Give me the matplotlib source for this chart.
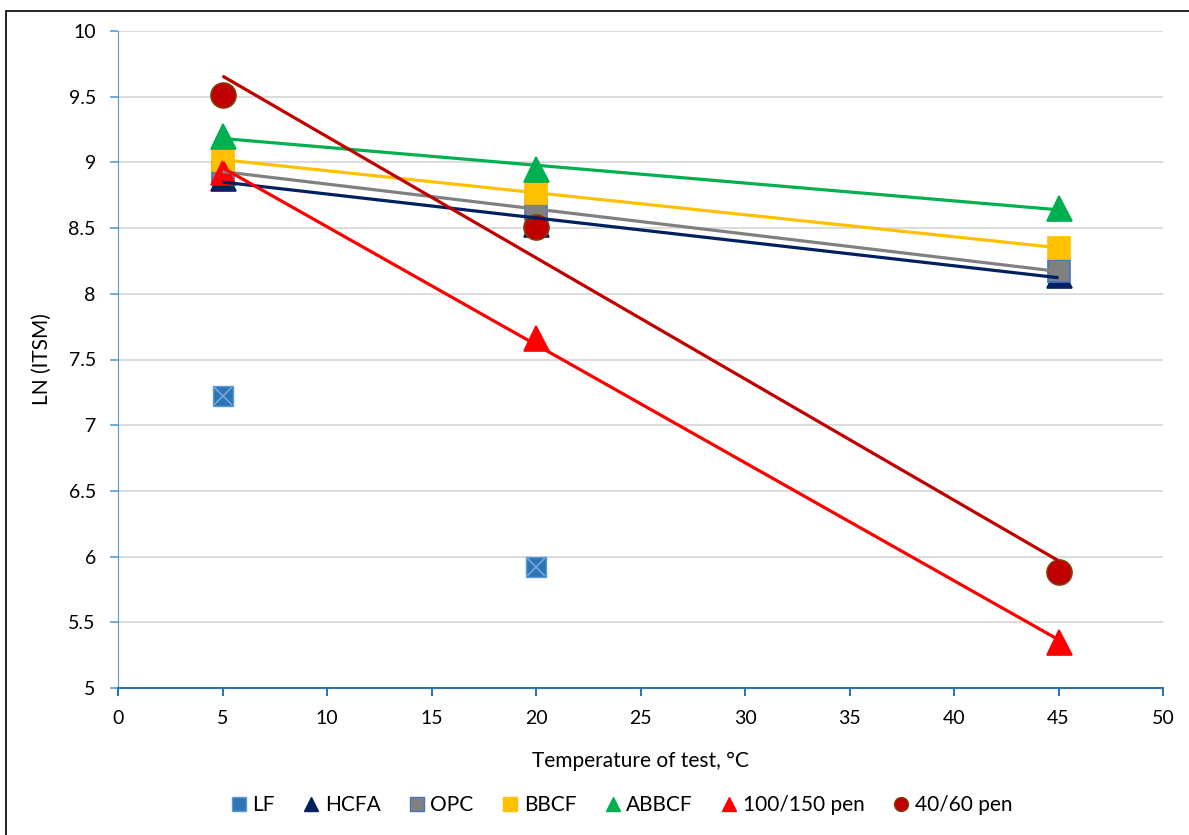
import numpy as np
import matplotlib
matplotlib.use("Agg")
import matplotlib.pyplot as plt
from matplotlib.lines import Line2D
from matplotlib.patches import Rectangle

plt.rcParams['font.family'] = ['Lato', 'DejaVu Sans']

temps = [5, 20, 45]
lf_temps = [5, 20]
lf = [7.22, 5.92]
hcfa = [8.88, 8.53, 8.14]
opc = [8.93, 8.645, 8.17]
bbcf = [9.02, 8.77, 8.35]
abbcf = [9.20, 8.95, 8.65]
pen100 = [8.93, 7.66, 5.35]
pen40 = [9.51, 8.51, 5.88]

# name, values, marker, face, edge, size, trend colour
series = [
    ("HCFA", hcfa, "^", "#002060", "#002060", 18, "#002060"),
    ("OPC", opc, "s", "#808080", "#4472C4", 16, "#808080"),
    ("BBCF", bbcf, "s", "#FFC000", "#FFC000", 16, "#FFC000"),
    ("ABBCF", abbcf, "^", "#00B050", "#00B050", 18, "#00B050"),
    ("100/150 pen", pen100, "^", "#FF0000", "#FF0000", 18, "#FF0000"),
    ("40/60 pen", pen40, "o", "#C00000", "#843C0C", 18, "#C00000"),
]

fig = plt.figure(figsize=(11.89, 8.35), dpi=100)
ax = fig.add_axes([118 / 1189, 1 - 688 / 835, (1163 - 118) / 1189, (688 - 31) / 835])

# LF: blue square with a light cross
ax.plot(lf_temps, lf, ls="none", marker="s", ms=14, mfc="#2E75B6", mec="#5B9BD5", mew=1, zorder=3)
ax.plot(lf_temps, lf, ls="none", marker="x", ms=13, mec="#6FA8DC", mew=1.2, zorder=3)

for name, vals, mk, fc, ec, ms, lc in series:
    ax.plot(temps, vals, ls="none", marker=mk, ms=ms, mfc=fc, mec=ec, mew=1.2, zorder=3)

# linear trendlines drawn above the markers
xs = np.array([5, 45])
for name, vals, mk, fc, ec, ms, lc in series:
    k, b = np.polyfit(temps, vals, 1)
    ax.plot(xs, k * xs + b, color=lc, lw=2.3, zorder=4, solid_capstyle="butt")

ax.set_xlim(0, 50)
ax.set_ylim(5, 10)
ax.set_xticks(range(0, 51, 5))
ax.set_yticks(np.arange(5, 10.01, 0.5))
ax.set_yticklabels(["5", "5.5", "6", "6.5", "7", "7.5", "8", "8.5", "9", "9.5", "10"])
ax.grid(axis="y", color="#D9D9D9", lw=1.3)
ax.set_axisbelow(True)
for s in ["top", "right"]:
    ax.spines[s].set_visible(False)
ax.spines["left"].set_color("#5B9BD5")
ax.spines["bottom"].set_color("#2E75B6")
ax.spines["bottom"].set_linewidth(1.5)
ax.tick_params(axis="x", colors="#2E75B6", length=6, width=1.5, labelcolor="black",
               labelsize=14, pad=10)
ax.tick_params(axis="y", colors="#5B9BD5", length=6, width=1.2, labelcolor="black",
               labelsize=14, pad=10)

ax.set_xlabel("Temperature of test, °C", fontsize=15, labelpad=17)
ax.set_ylabel("LN (ITSM)", fontsize=15, labelpad=12)

handles = [Line2D([], [], ls="none", marker="s", ms=10, mfc="#2E75B6", mec="#5B9BD5")]
for name, vals, mk, fc, ec, ms, lc in series:
    handles.append(Line2D([], [], ls="none", marker=mk, ms=10, mfc=fc, mec=ec))
labels = ["LF"] + [s[0] for s in series]
fig.legend(handles, labels, loc="center", bbox_to_anchor=(0.522, 1 - 805 / 835), ncol=7,
           frameon=False, fontsize=15, handlelength=0.9, handletextpad=0.2,
           columnspacing=1.3)

fig.patches.append(Rectangle((6 / 1189, -0.01), 1.1, 1 - 11 / 835 + 0.01,
                             transform=fig.transFigure, fill=False, ec="black", lw=1.2))

fig.savefig("out.png", dpi=100)
